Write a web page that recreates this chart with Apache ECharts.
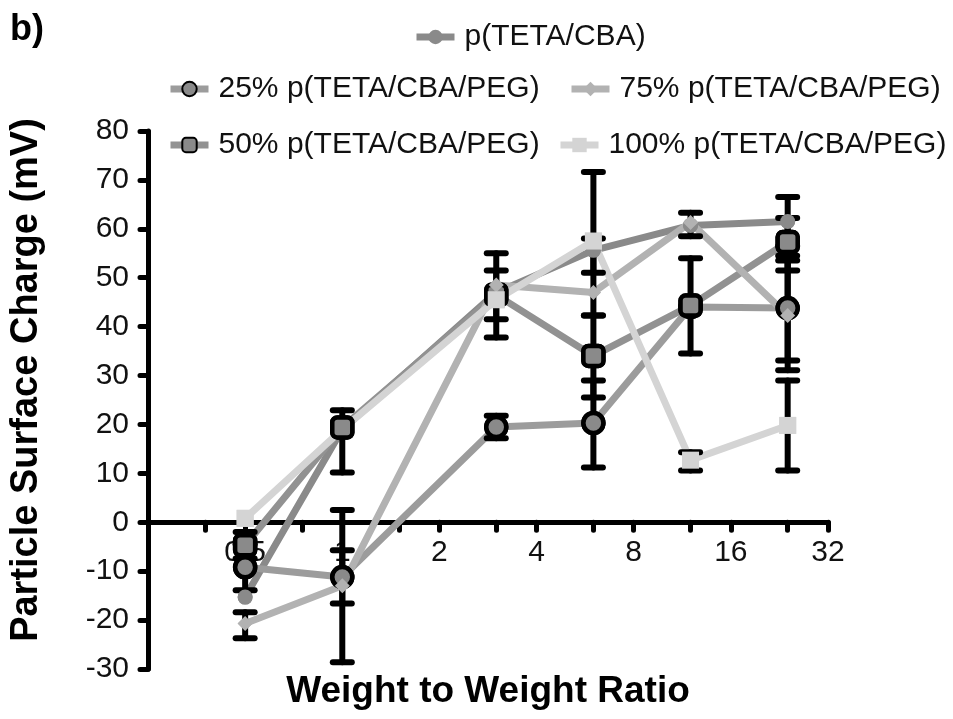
<!DOCTYPE html>
<html><head><meta charset="utf-8">
<script src="https://cdn.jsdelivr.net/npm/echarts@6/dist/echarts.min.js"></script>
<style>html,body{margin:0;padding:0;background:#fff}#c{width:953px;height:719px}</style>
</head><body><div id="c"></div>
<script>
// ---- data ----
const ratios = [0.5, 1, 3, 6, 12, 24];
const xTickValues = [0.375, 0.5, 0.75, 1, 1.5, 2, 3, 4, 6, 8, 12, 16, 24, 32];
const xLabelValues = [0.5, 1, 2, 4, 8, 16, 32];
const seriesNames = ['p(TETA/CBA)', '25% p(TETA/CBA/PEG)', '50% p(TETA/CBA/PEG)', '75% p(TETA/CBA/PEG)', '100% p(TETA/CBA/PEG)'];

const tetaCba     = [-15.3, 19, 47, 55.6, 60.7, 61.5];
const tetaCbaLow  = [null, null, 41.5, 51, 58.5, 56.5];
const tetaCbaHigh = [null, null, 51.5, 58, 63.3, 66.5];

const peg25     = [-9.2, -11.2, 19.5, 20.3, 44, 43.8];
const peg25Low  = [-13.9, -16.6, 17.2, 11.2, null, 33.1];
const peg25High = [-4.5, -5.7, 21.8, 29, null, 54.5];

const peg50     = [-4.7, 19.4, 46.5, 34, 44.3, 57.3];
const peg50Low  = [-7.4, 10.2, 37.8, 25.5, 34.5, 51.5];
const peg50High = [-2, 22.9, 55, 42.3, 54, 62.2];

const peg75     = [-20.7, -13, 48.5, 47, 61.3, 42.3];
const peg75Low  = [-23.7, -28.6, null, null, null, 31.1];
const peg75High = [-18.4, 2.5, null, null, null, 53.5];

const peg100     = [0.8, 19, 45.5, 57.5, 12.7, 19.8];
const peg100Low  = [null, null, null, 42.3, 10.6, 10.6];
const peg100High = [null, null, null, 71.6, 14.3, 29];

const yMin = -30, yMax = 80, yStep = 10;

// ---- styles / layout ----
const FONT = 'Liberation Sans';
const GRID = {left:148, right:125, top:131, bottom:50};
const gridH = 719 - GRID.top - GRID.bottom;
const xAxisOffset = -gridH * (0 - yMin) / (yMax - yMin); // put x axis at y = 0

const styles = [
  {line:'#8a8a8a', symbol:'circle', size:15, fill:'#8a8a8a', border:'#8a8a8a', bw:0},
  {line:'#9c9c9c', symbol:'circle', size:20, fill:'#8a8a8a', border:'#000', bw:4.5},
  {line:'#929292', symbol:'roundRect', size:20, fill:'#8a8a8a', border:'#000', bw:4.5},
  {line:'#b2b2b2', symbol:'diamond', size:15, fill:'#b2b2b2', border:'#b2b2b2', bw:0},
  {line:'#d4d4d4', symbol:'rect', size:17, fill:'#d4d4d4', border:'#d4d4d4', bw:0}
];
const values = [tetaCba, peg25, peg50, peg75, peg100];
const lows = [tetaCbaLow, peg25Low, peg50Low, peg75Low, peg100Low];
const highs = [tetaCbaHigh, peg25High, peg50High, peg75High, peg100High];
// markers that sit underneath the others (drawn only at the line layer)
const underMarkers = {4:[1]};

function pairs(v){ return ratios.map((x,i)=>[x, v[i]]); }
function errData(lo, hi){
  const out = [];
  ratios.forEach((x,i)=>{ if(lo[i]!=null && hi[i]!=null) out.push([x, lo[i], hi[i]]); });
  return out;
}
function errRender(params, api){
  const x = api.value(0);
  const p1 = api.coord([x, api.value(1)]);
  const p2 = api.coord([x, api.value(2)]);
  const w = 9.5;
  const st = {stroke:'#000', lineWidth:6, lineCap:'round'};
  return {type:'group', children:[
    {type:'line', shape:{x1:p1[0], y1:p1[1], x2:p2[0], y2:p2[1]}, style:st},
    {type:'line', shape:{x1:p1[0]-w, y1:p1[1], x2:p1[0]+w, y2:p1[1]}, style:st},
    {type:'line', shape:{x1:p2[0]-w, y1:p2[1], x2:p2[0]+w, y2:p2[1]}, style:st}
  ]};
}

const series = [];
seriesNames.forEach((name, k)=>{
  const s = styles[k];
  series.push({
    name, type:'line', data: pairs(values[k]), z:2,
    symbol:s.symbol, symbolSize:s.size, showSymbol:true,
    lineStyle:{color:s.line, width:7},
    itemStyle:{color:s.fill, borderColor:s.border, borderWidth:s.bw},
    emphasis:{disabled:true}
  });
});
seriesNames.forEach((name, k)=>{
  series.push({
    type:'custom', renderItem: errRender, data: errData(lows[k], highs[k]),
    encode:{x:0, y:[1,2]}, z:3, silent:true
  });
});
seriesNames.forEach((name, k)=>{
  const s = styles[k];
  const skip = underMarkers[k] || [];
  series.push({
    type:'scatter', data: pairs(values[k]).filter((p,i)=>skip.indexOf(i) < 0), z:4, silent:true,
    symbol:s.symbol, symbolSize:s.size,
    itemStyle:{color:s.fill, borderColor:s.border, borderWidth:s.bw, opacity:1}
  });
});

function legendAt(name, left, top){
  return {
    data:[name], left, top, padding:0, itemWidth:38, itemHeight:18,
    selectedMode:false,
    lineStyle:{width:7},
    textStyle:{fontFamily:FONT, fontSize:30, color:'#111', padding:[0,0,0,5]}
  };
}

const chart = echarts.init(document.getElementById('c'), null, {renderer:'canvas'});
chart.setOption({
  animation:false,
  backgroundColor:'#fff',
  grid:Object.assign({containLabel:false}, GRID),
  legend:[
    legendAt(seriesNames[0], 413, 22),
    legendAt(seriesNames[1], 167, 74),
    legendAt(seriesNames[3], 568, 74),
    legendAt(seriesNames[2], 167, 130),
    legendAt(seriesNames[4], 557, 130)
  ],
  xAxis:{
    type:'log', logBase:2, min:0.25, max:32, position:'bottom', offset:xAxisOffset,
    axisLine:{onZero:false, lineStyle:{color:'#000', width:5, cap:'round'}},
    axisTick:{customValues:xTickValues, length:8, lineStyle:{color:'#000', width:5, cap:'round'}},
    axisLabel:{customValues:xLabelValues, fontFamily:FONT, fontSize:30, color:'#111', margin:15},
    splitLine:{show:false}, minorTick:{show:false}
  },
  yAxis:{
    type:'value', min:yMin, max:yMax, interval:yStep,
    axisLine:{show:true, onZero:false, lineStyle:{color:'#000', width:5, cap:'round'}},
    axisTick:{show:true, length:8, lineStyle:{color:'#000', width:5, cap:'round'}},
    axisLabel:{fontFamily:FONT, fontSize:30, color:'#111', margin:19},
    splitLine:{show:false}
  },
  graphic:[
    {type:'text', left:10, top:12, style:{text:'b)', font:'bold 36px "Liberation Sans"', fill:'#000'}},
    {type:'text', x:488, y:692, style:{text:'Weight to Weight Ratio', font:'bold 37px "Liberation Sans"', fill:'#000', textAlign:'center', textVerticalAlign:'middle'}},
    {type:'text', x:27, y:380, rotation:Math.PI/2, style:{text:'Particle Surface Charge (mV)', font:'bold 38px "Liberation Sans"', fill:'#000', textAlign:'center', textVerticalAlign:'middle'}}
  ],
  series
});
</script>
</body></html>
